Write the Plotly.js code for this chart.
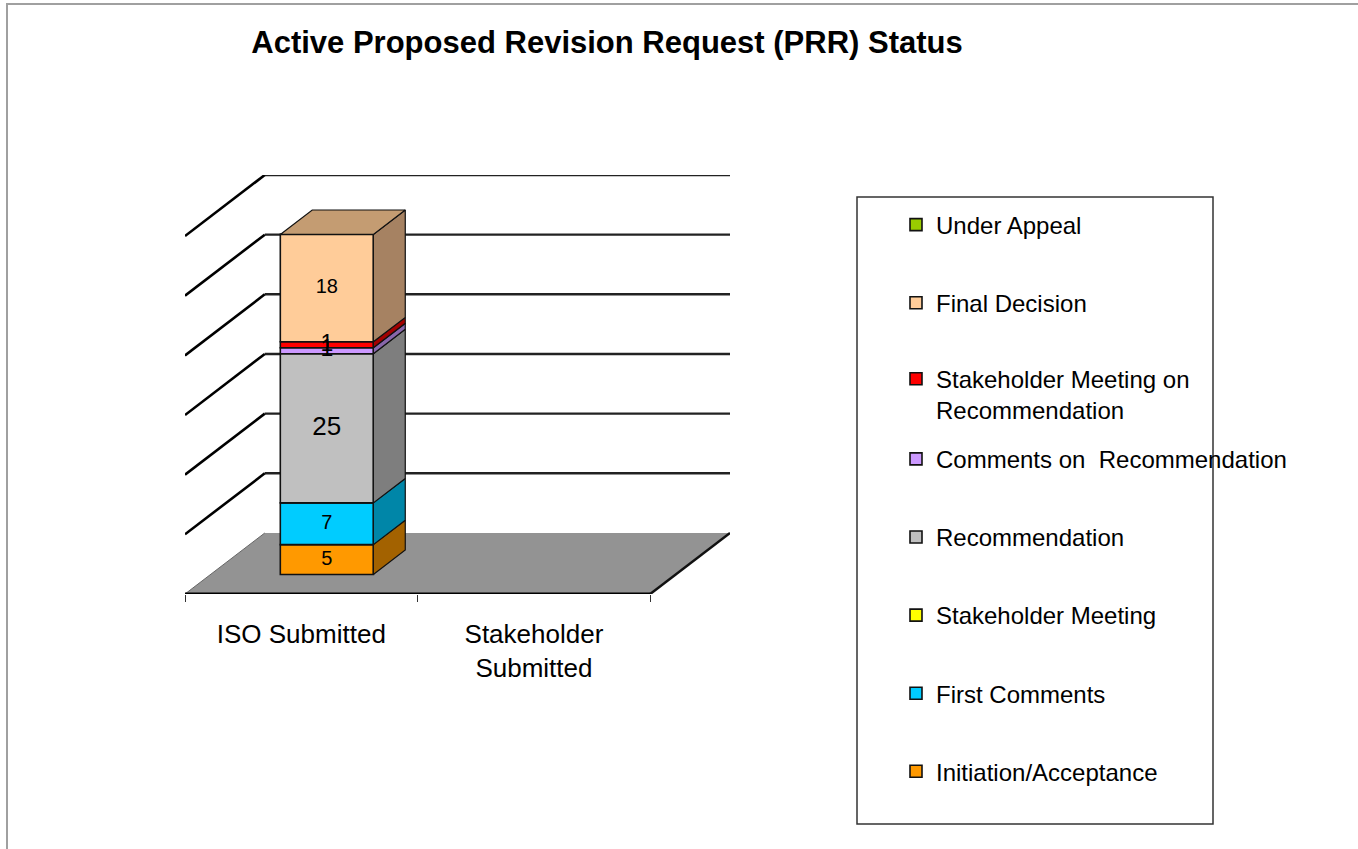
<!DOCTYPE html>
<html><head><meta charset="utf-8">
<script src="https://cdn.plot.ly/plotly-3.0.1.min.js"></script>
<style>
body{margin:0;background:#fff}
#chart{width:1358px;height:849px}
#frame{position:absolute;left:6px;top:3px;width:1400px;height:900px;border-left:2px solid #a0a0a0;border-top:2px solid #a0a0a0;pointer-events:none}
</style>
</head><body><div id="chart"></div><div id="frame"></div>
<script>
// ---------- data ----------
const categories = ["ISO Submitted", "Stakeholder<br>Submitted"];
const seriesNames = ["Initiation/Acceptance", "First Comments", "Stakeholder Meeting", "Recommendation",
  "Comments on  Recommendation", "Stakeholder Meeting on<br>Recommendation", "Final Decision", "Under Appeal"];
const initiationAcceptance = [5, 0];
const firstComments = [7, 0];
const stakeholderMeeting = [0, 0];
const recommendation = [25, 0];
const commentsOnRecommendation = [1, 0];
const stakeholderMeetingOnRecommendation = [1, 0];
const finalDecision = [18, 0];
const underAppeal = [0, 0];
const gridValues = [0, 10, 20, 30, 40, 50, 60];

// ---------- style ----------
const seriesValues = [initiationAcceptance, firstComments, stakeholderMeeting, recommendation,
  commentsOnRecommendation, stakeholderMeetingOnRecommendation, finalDecision, underAppeal];
const frontColors = ["#ff9900", "#00ccff", "#ffff00", "#c0c0c0", "#cc99ff", "#ff0000", "#ffcc99", "#99cc00"];
const sideColors  = ["#a36200", "#0086a8", "#a3a300", "#7e7e7e", "#8866aa", "#a30000", "#a68262", "#628300"];
const topColors   = ["#c47600", "#00a0c8", "#c4c400", "#a0a0a0", "#a57ccc", "#c40000", "#c49c72", "#7aa000"];
const labelSizes  = [20, 20, 20, 26, 23, 23, 20, 20];

const FONT = "Liberation Sans, Arial, Helvetica, sans-serif";
const DX = 0.343, DY = 10.23;      // depth of the 3D box in axis units
const D0 = 0.32, D1 = 0.72;        // depth of bar front / back faces
const BARW = 0.4;
const yShift = d => -DY * (1 - d);
const xShift = d => DX * d;

const traces = [];
const nCat = categories.length;
const cum = new Array(nCat).fill(0);
const labelTraces = [];
const sideTraces = [];
const topInfo = [];

seriesValues.forEach((vals, s) => {
  const bases = cum.slice();
  const xs = categories.map((_, c) => c + xShift(D0));
  traces.push({
    type: "bar", name: seriesNames[s], x: xs, y: vals.map(v => (v > 0 ? v : null)),
    base: bases.map(b => b + yShift(D0)), width: BARW,
    marker: {color: frontColors[s], line: {color: "#111", width: 1.6}},
    legend: s === 0 ? "legend" : "legend" + (s + 1),
    hoverinfo: "skip"
  });
  vals.forEach((v, c) => {
    if (v > 0) {
      const xr = c + xShift(D0) + BARW / 2;
      const lo = bases[c], hi = bases[c] + v;
      sideTraces.push({
        type: "scatter", mode: "lines", showlegend: false, hoverinfo: "skip",
        x: [xr, xr + (D1 - D0) * DX, xr + (D1 - D0) * DX, xr, xr],
        y: [lo + yShift(D0), lo + yShift(D1), hi + yShift(D1), hi + yShift(D0), lo + yShift(D0)],
        fill: "toself", fillcolor: sideColors[s], line: {color: "#111", width: 1.2}
      });
      labelTraces.push({
        type: "scatter", mode: "text", showlegend: false, hoverinfo: "skip",
        x: [c + xShift(D0)], y: [lo + v / 2 + yShift(D0)], text: [String(v)],
        textposition: "middle center", textfont: {family: FONT, size: labelSizes[s], color: "#000"}
      });
      topInfo[c] = {s: s, hi: hi};
    }
    cum[c] += v;
  });
});

topInfo.forEach((t, c) => {
  if (!t) return;
  const xl = c + xShift(D0) - BARW / 2, xr = c + xShift(D0) + BARW / 2, dd = (D1 - D0) * DX;
  sideTraces.push({
    type: "scatter", mode: "lines", showlegend: false, hoverinfo: "skip",
    x: [xl, xr, xr + dd, xl + dd, xl],
    y: [t.hi + yShift(D0), t.hi + yShift(D0), t.hi + yShift(D1), t.hi + yShift(D1), t.hi + yShift(D0)],
    fill: "toself", fillcolor: topColors[t.s], line: {color: "#111", width: 1.2}
  });
});

// front floor edge (on the tick axis)
const edgeTrace = {
  type: "scatter", mode: "lines", showlegend: false, hoverinfo: "skip", xaxis: "x2", yaxis: "y",
  x: [-0.5, nCat - 0.5], y: [-DY, -DY], line: {color: "#000", width: 3}
};

// ---------- shapes: floor, walls ----------
const xMin = -0.5, xMax = nCat - 0.5;
const shapes = [];
shapes.push({type: "path", xref: "x", yref: "y", layer: "below",
  path: `M ${xMin},${-DY} L ${xMax},${-DY} L ${xMax + DX},0 L ${xMin + DX},0 Z`,
  fillcolor: "#939393", line: {width: 0}});
shapes.push({type: "line", xref: "x", yref: "y", layer: "below",
  x0: xMax, y0: -DY, x1: xMax + DX, y1: 0, line: {color: "#111", width: 2.5}});
shapes.push({type: "line", xref: "x", yref: "y", layer: "below",
  x0: xMin, y0: -DY, x1: xMin + DX, y1: 0, line: {color: "#666", width: 1}});
gridValues.filter(v => v > 0).forEach(v => {
  shapes.push({type: "line", xref: "x", yref: "y", layer: "below",
    x0: xMin + DX, y0: v, x1: xMax + DX, y1: v, line: {color: "#222", width: 2.4}});
  shapes.push({type: "line", xref: "x", yref: "y", layer: "below",
    x0: xMin, y0: v - DY, x1: xMin + DX, y1: v, line: {color: "#000", width: 2.6}});
});

// legend frame (paper coords relative to plot area 185..730 x 175..594 px)
const PL = 185, PW = 545, PT = 175, PH = 419;
const px2x = p => (p - PL) / PW;
const py2y = p => (PT + PH - p) / PH;
shapes.push({type: "rect", xref: "paper", yref: "paper",
  x0: px2x(857), x1: px2x(1213), y0: py2y(197), y1: py2y(824),
  line: {color: "#333", width: 1.5}, fillcolor: "rgba(0,0,0,0)"});

// ---------- layout ----------
const layout = {
  width: 1358, height: 849,
  margin: {l: PL, r: 1358 - PL - PW, t: PT, b: 849 - PT - PH},
  paper_bgcolor: "#fff", plot_bgcolor: "rgba(0,0,0,0)",
  barmode: "overlay", hovermode: false,
  font: {family: FONT, color: "#000"},
  title: {text: "Active Proposed Revision Request (PRR) Status",
    font: {family: FONT, size: 31, color: "#000", weight: "bold"},
    xref: "container", yref: "container", x: 607 / 1358, y: 1 - 42 / 849,
    xanchor: "center", yanchor: "middle"},
  xaxis: {range: [xMin, xMax + DX], tickvals: categories.map((_, i) => i), ticktext: categories,
    ticks: "", showgrid: false, zeroline: false, showline: false, fixedrange: true,
    tickfont: {family: FONT, size: 26, color: "#000"}, ticklabelstandoff: 22},
  xaxis2: {range: [xMin, xMax + DX], overlaying: "x", anchor: "y", side: "bottom",
    tickvals: categories.map((_, i) => i - 0.5).concat([xMax]),
    ticks: "outside", ticklen: 7, tickwidth: 1, tickcolor: "#333",
    showticklabels: false, showgrid: false, zeroline: false, showline: false, fixedrange: true},
  yaxis: {range: [-DY, gridValues[gridValues.length - 1]], visible: false, fixedrange: true},
  shapes: shapes
};

// one legend per entry so entries sit at even spacing
const legendOrder = seriesNames.map((_, i) => seriesNames.length - 1 - i); // top to bottom
legendOrder.forEach((s, i) => {
  const key = s === 0 ? "legend" : "legend" + (s + 1);
  const twoLine = seriesNames[s].indexOf("<br>") >= 0;
  const yc = 225 + 78.1 * i + (twoLine ? 13.5 : 0);
  layout[key] = {x: px2x(896), y: py2y(yc), xref: "paper", yref: "paper",
    xanchor: "left", yanchor: "middle", valign: "top",
    bgcolor: "rgba(0,0,0,0)", borderwidth: 0,
    font: {family: FONT, size: 24, color: "#000"}};
});

Plotly.newPlot("chart", [...traces, ...sideTraces, ...labelTraces, edgeTrace], layout,
  {displayModeBar: false, staticPlot: true});
</script>
</body></html>
